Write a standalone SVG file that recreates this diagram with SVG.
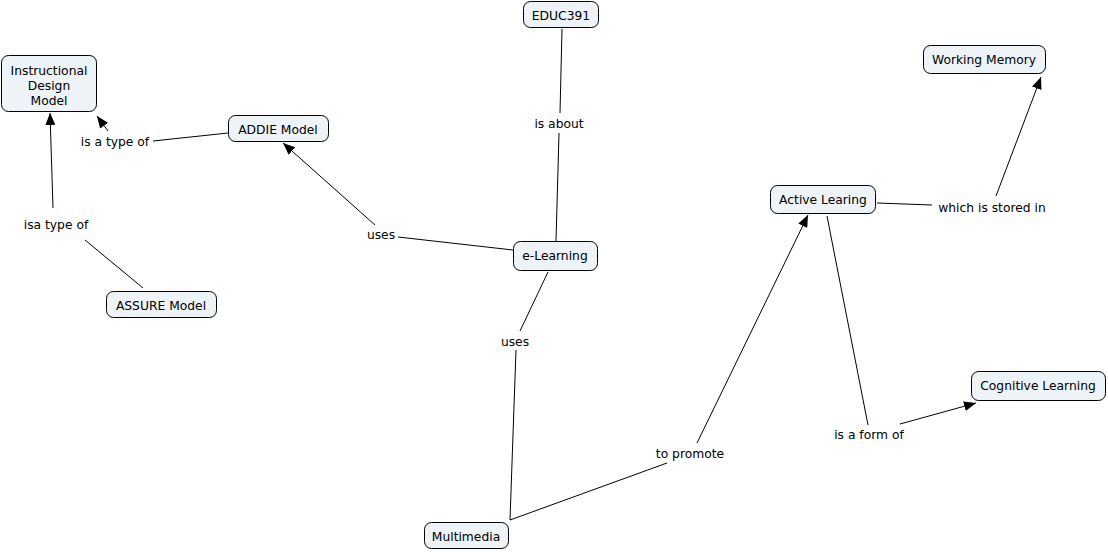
<svg xmlns="http://www.w3.org/2000/svg" width="1108" height="552" viewBox="0 0 1108 552">
<defs>
<marker id="ah" markerWidth="12" markerHeight="10" refX="12" refY="5" orient="auto" markerUnits="userSpaceOnUse">
<path d="M0,0 L12,5 L0,10 Z" fill="#000"/>
</marker>
<style>
.n rect{fill:#edf3f6;stroke:#000;stroke-width:1}
text{font-family:"DejaVu Sans",Verdana,sans-serif;font-size:12.3px;fill:#000;text-anchor:middle}
.c line{stroke:#000;stroke-width:1}
.c line.a{marker-end:url(#ah)}
</style>
</defs>
<rect width="1108" height="552" fill="#fff"/>
<g class="c" id="connectors">
<line x1="228" y1="133" x2="153" y2="141"/>
<line class="a" x1="108" y1="131" x2="97" y2="116"/>
<line x1="143" y1="288" x2="85" y2="240"/>
<line class="a" x1="53" y1="208" x2="50" y2="113"/>
<line x1="513" y1="250" x2="398" y2="237"/>
<line class="a" x1="375" y1="225" x2="283" y2="143"/>
<line x1="562" y1="29" x2="560" y2="113"/>
<line x1="559" y1="133" x2="556" y2="241"/>
<line x1="548" y1="272" x2="520" y2="331"/>
<line x1="516" y1="350" x2="510" y2="520"/>
<line x1="510" y1="520" x2="667" y2="463"/>
<line class="a" x1="697" y1="443" x2="808" y2="215"/>
<line x1="877" y1="203" x2="932" y2="205"/>
<line class="a" x1="996" y1="196" x2="1041" y2="77"/>
<line x1="827" y1="216" x2="868" y2="425"/>
<line class="a" x1="900" y1="424" x2="976" y2="403"/>
</g>
<g id="labels">
<text x="115" y="146">is a type of</text>
<text x="56" y="229">isa type of</text>
<text x="559" y="128">is about</text>
<text x="381" y="239">uses</text>
<text x="515" y="346">uses</text>
<text x="992" y="212">which is stored in</text>
<text x="690" y="458">to promote</text>
<text x="869" y="439">is a form of</text>
</g>
<g class="n" id="n-idm"><rect x="1.5" y="55.5" width="95" height="56" rx="7"/><text x="49" y="75">Instructional</text><text x="49" y="90">Design</text><text x="49" y="105">Model</text></g>
<g class="n" id="n-educ"><rect x="523.5" y="1.5" width="75" height="26" rx="7"/><text x="561" y="20">EDUC391</text></g>
<g class="n" id="n-addie"><rect x="228.5" y="115.5" width="100" height="26" rx="7"/><text x="278" y="134">ADDIE Model</text></g>
<g class="n" id="n-wm"><rect x="923.5" y="45.5" width="122" height="28" rx="7"/><text x="984" y="64">Working Memory</text></g>
<g class="n" id="n-al"><rect x="770.5" y="185.5" width="105" height="28" rx="7"/><text x="823" y="204">Active Learing</text></g>
<g class="n" id="n-assure"><rect x="106.5" y="291.5" width="110" height="26" rx="7"/><text x="161" y="310">ASSURE Model</text></g>
<g class="n" id="n-el"><rect x="513.5" y="241.5" width="84" height="29" rx="7"/><text x="555" y="260">e-Learning</text></g>
<g class="n" id="n-mm"><rect x="424.5" y="522.5" width="84" height="26" rx="7"/><text x="466" y="541">Multimedia</text></g>
<g class="n" id="n-cl"><rect x="971.5" y="371.5" width="134" height="29" rx="7"/><text x="1038" y="390">Cognitive Learning</text></g>
</svg>
